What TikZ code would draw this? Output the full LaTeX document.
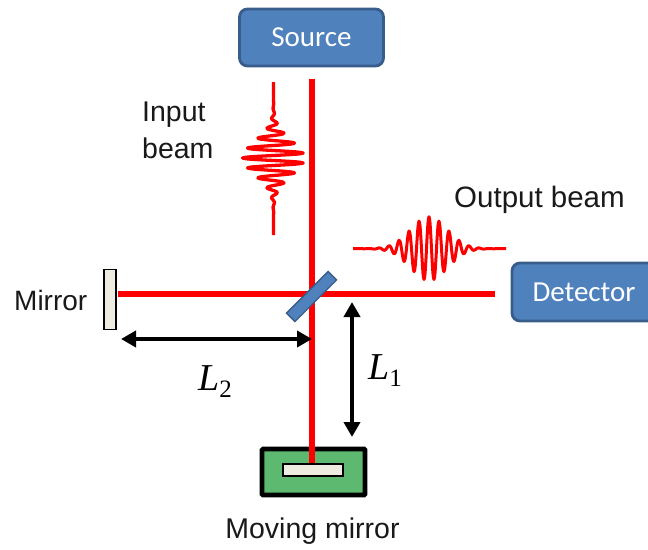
\documentclass[tikz,border=0pt]{standalone}
\usepackage{fontspec}
\setmainfont{Liberation Sans}
\newfontfamily\calfont{Carlito}
\newfontfamily\mathserif{Liberation Serif}
\usetikzlibrary{arrows.meta}
\definecolor{boxblue}{HTML}{4F81BD}
\definecolor{boxedge}{HTML}{385D8A}
\definecolor{mirrorfill}{HTML}{EEECE1}
\definecolor{stagegreen}{HTML}{5CB96F}
\newcommand{\lenlabel}[1]{{\mathserif\itshape L}\raisebox{-7pt}{\mathserif\fontsize{25}{25}\selectfont #1}}
\tikzset{
  device/.style={draw=boxedge,line width=2.8pt,fill=boxblue,rounded corners=8pt,inner sep=0pt,text=white,font=\calfont\fontsize{29}{29}\selectfont},
  beam/.style={draw=red,line width=6pt},
  pulse/.style={draw=red,line join=round},
  caption/.style={font=\fontsize{28.5}{37}\selectfont,text=black!90,inner sep=0pt,align=left},
  mirrorbox/.style={draw=black,line width=1.8pt,fill=mirrorfill,inner sep=0pt},
  span/.style={draw=black,line width=4pt,{Triangle[length=15pt,width=16pt]}-{Triangle[length=15pt,width=16pt]}},
  mathlabel/.style={font=\fontsize{38}{38}\selectfont,inner sep=0pt}
}
\begin{document}
\begin{tikzpicture}[x=1pt,y=-1pt]
\useasboundingbox (0,0) rectangle (648,549);
\clip (0,0) rectangle (648,549);
% anchors of the beams
\coordinate (vtop) at (312,79);
\coordinate (vbot) at (312,464);
\coordinate (hleft) at (118,294);
\coordinate (hright) at (495,294);
\coordinate (l2a) at (121,339);
\coordinate (l2b) at (312,339);
\coordinate (l1a) at (352,302);
\coordinate (l1b) at (352,437);
% beams
\draw[beam,line width=5.5pt] (hleft) -- (hright);
% devices
\node[device,minimum width=144pt,minimum height=57pt] (source) at (311.5,37.5) {Source};
\node[device,minimum width=150pt,minimum height=58pt,text width=142pt,align=left] (detector) at (587,292) {\hspace{16.5pt}Detector};
% mirrors and stage
\node[mirrorbox,minimum width=12pt,minimum height=60pt] (mirror) at (110,299.5) {};
\node[draw=black,line width=4.6pt,fill=stagegreen,minimum width=103pt,minimum height=46pt,inner sep=0pt,rounded corners=1pt] (stage) at (313.5,472) {};
\draw[beam] (vtop) -- (vbot);
\node[mirrorbox,minimum width=60pt,minimum height=12pt] (movmirror) at (313,470) {};
% beam splitter
\node[draw=boxedge,line width=1.4pt,fill=boxblue,minimum width=59pt,minimum height=12pt,inner sep=0pt,rotate=45] (splitter) at (311.5,296.5) {};
% pulses
\draw[pulse,line width=3.3pt] plot[domain=-76:77,samples=154,smooth] ({273.5-31*exp(-(\x/24)*(\x/24))*cos(36*\x)},{158+\x});
\draw[pulse,line width=3pt] plot[domain=-76:77,samples=154,smooth] ({429+\x},{248.7-32*exp(-(\x/26)*(\x/26))*cos(36*\x)});
% double arrows
\draw[span] (l2a) -- (l2b);
\draw[span] (l1a) -- (l1b);
% labels
\node[caption,anchor=west] (inputlbl) at (142,130) {Input\\beam};
\node[caption,anchor=west] (outlbl) at (454,199.5) {\fontsize{29.5}{37}\selectfont Output beam};
\node[caption,anchor=west] (mirlbl) at (14,300) {\fontsize{28}{37}\selectfont Mirror};
\node[caption,anchor=center] (movlbl) at (312.5,531) {Moving mirror};
\node[mathlabel] (ltwo) at (215,382) {\lenlabel{2}};
\node[mathlabel] (lone) at (385,371) {\lenlabel{1}};
\end{tikzpicture}
\end{document}
